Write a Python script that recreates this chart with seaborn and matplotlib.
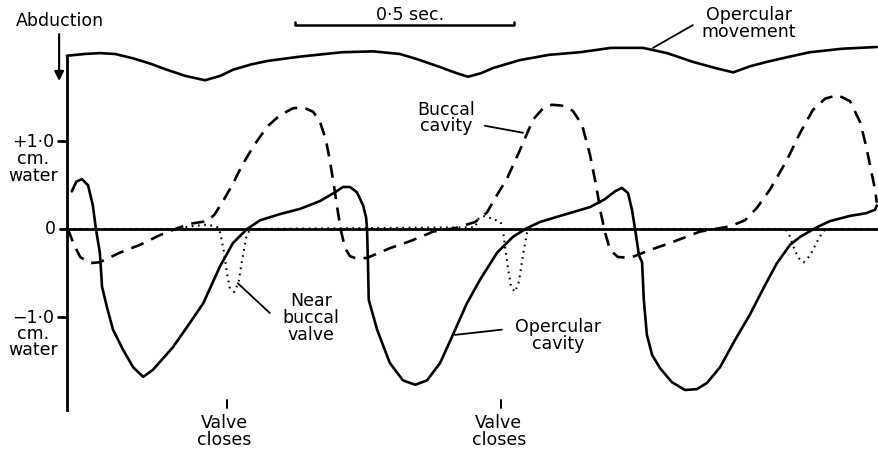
import numpy as np
import matplotlib
matplotlib.use("Agg")
import matplotlib.pyplot as plt
import seaborn as sns

# time in seconds, pressure in cm water
oper_t = [0.011, 0.021, 0.034, 0.048, 0.059, 0.066, 0.075, 0.080, 0.091, 0.105, 0.128, 0.151, 0.174,
          0.196, 0.242, 0.274, 0.311, 0.349, 0.379, 0.411, 0.441, 0.486, 0.532, 0.578, 0.612, 0.630,
          0.646, 0.662, 0.676, 0.683, 0.685, 0.687, 0.689, 0.708, 0.737, 0.767, 0.795, 0.822, 0.852,
          0.881, 0.913, 0.943, 0.982, 1.018, 1.050, 1.080, 1.126, 1.194, 1.228, 1.251, 1.267, 1.281,
          1.290, 1.297, 1.306, 1.313, 1.317, 1.324, 1.336, 1.354, 1.381, 1.411, 1.438, 1.461, 1.491,
          1.525, 1.559, 1.594, 1.621, 1.651, 1.674, 1.712, 1.742, 1.788, 1.824, 1.845, 1.849]
oper_p = [0.43, 0.54, 0.57, 0.50, 0.27, 0.00, -0.27, -0.66, -0.89, -1.15, -1.38, -1.58, -1.69,
          -1.61, -1.35, -1.12, -0.85, -0.43, -0.16, 0.00, 0.10, 0.17, 0.23, 0.32, 0.42, 0.48,
          0.48, 0.42, 0.27, 0.13, 0.00, -0.35, -0.81, -1.15, -1.53, -1.73, -1.78, -1.73, -1.53,
          -1.21, -0.85, -0.58, -0.27, -0.09, 0.01, 0.08, 0.15, 0.25, 0.34, 0.43, 0.47, 0.41,
          0.22, 0.00, -0.30, -0.38, -0.81, -1.21, -1.44, -1.59, -1.75, -1.84, -1.83, -1.76, -1.58,
          -1.27, -0.98, -0.64, -0.39, -0.18, -0.09, 0.02, 0.09, 0.15, 0.18, 0.22, 0.27]

bucc_t = [0.002, 0.016, 0.030, 0.053, 0.075, 0.121, 0.167, 0.212, 0.247, 0.281, 0.320, 0.336, 0.354,
          0.377, 0.400, 0.425, 0.457, 0.486, 0.516, 0.539, 0.562, 0.578, 0.591, 0.600, 0.610, 0.619,
          0.626, 0.635, 0.646, 0.662, 0.685, 0.737, 0.783, 0.836, 0.886, 0.932, 0.959, 0.982, 1.005,
          1.034, 1.064, 1.087, 1.107, 1.130, 1.155, 1.176, 1.194, 1.208, 1.219, 1.228, 1.240, 1.258,
          1.286, 1.331, 1.377, 1.445, 1.514, 1.548, 1.575, 1.605, 1.644, 1.674, 1.703, 1.731, 1.760,
          1.788, 1.811, 1.824, 1.836, 1.845, 1.849]
bucc_p = [0.00, -0.18, -0.32, -0.39, -0.38, -0.27, -0.18, -0.07, 0.00, 0.06, 0.09, 0.16, 0.30,
          0.50, 0.73, 0.94, 1.17, 1.30, 1.38, 1.39, 1.34, 1.22, 1.02, 0.79, 0.48, 0.18,
          -0.03, -0.22, -0.31, -0.34, -0.33, -0.22, -0.14, -0.03, 0.01, 0.08, 0.19, 0.39, 0.58,
          0.90, 1.25, 1.38, 1.42, 1.41, 1.35, 1.19, 0.85, 0.50, 0.18, -0.03, -0.24, -0.32,
          -0.33, -0.24, -0.16, -0.03, 0.03, 0.10, 0.24, 0.45, 0.79, 1.10, 1.36, 1.49, 1.53,
          1.46, 1.22, 0.96, 0.67, 0.45, 0.30]

valve_t = [0.000, 0.250, 0.280, 0.320, 0.345, 0.350, 0.358, 0.365, 0.372, 0.382, 0.392, 0.400, 0.409,
           0.418, 0.932, 0.940, 0.950, 0.970, 0.990, 0.995, 1.000, 1.007, 1.014, 1.023, 1.032, 1.041,
           1.050, 1.056, 1.640, 1.650, 1.660, 1.670, 1.682, 1.697, 1.712, 1.727, 1.740, 1.850]
valve_p = [0.00, 0.00, 0.03, 0.05, 0.02, -0.05, -0.25, -0.50, -0.68, -0.72, -0.60, -0.35, -0.10,
           0.00, 0.02, 0.12, 0.15, 0.12, 0.08, 0.00, -0.20, -0.45, -0.66, -0.72, -0.60, -0.30,
           -0.05, 0.00, 0.00, -0.08, -0.22, -0.33, -0.38, -0.30, -0.15, -0.02, 0.00, 0.00]

# opercular movement, arbitrary units drawn above the pressure traces
move_t = [0.000, 0.040, 0.075, 0.110, 0.151, 0.190, 0.228, 0.270, 0.315, 0.350, 0.379, 0.420,
          0.457, 0.532, 0.628, 0.699, 0.760, 0.800, 0.852, 0.890, 0.916, 0.945, 0.973, 1.034,
          1.100, 1.171, 1.242, 1.315, 1.370, 1.429, 1.480, 1.521, 1.560, 1.598, 1.650, 1.696,
          1.770, 1.849]
move_p = [1.98, 2.00, 2.01, 2.00, 1.95, 1.89, 1.82, 1.75, 1.70, 1.75, 1.82, 1.88,
          1.92, 1.97, 2.02, 2.03, 2.00, 1.94, 1.85, 1.78, 1.74, 1.78, 1.84, 1.93,
          1.99, 2.02, 2.07, 2.07, 2.01, 1.91, 1.84, 1.79, 1.86, 1.91, 1.97, 2.02,
          2.06, 2.08]

valve_close = [0.365, 0.991]

sns.set_style("white")
plt.rcParams["font.family"] = ["DejaVu Sans"]
plt.rcParams["text.color"] = "black"

fig = plt.figure(figsize=(8.79, 4.51), dpi=100)
ax = fig.add_axes([0, 0, 1, 1])

lw = 1.9
sns.lineplot(x=oper_t, y=oper_p, sort=False, estimator=None, color="black", linewidth=lw, ax=ax)
sns.lineplot(x=bucc_t, y=bucc_p, sort=False, estimator=None, color="black", linewidth=lw,
             linestyle=(0, (5.0, 3.2)), ax=ax)
sns.lineplot(x=valve_t, y=valve_p, sort=False, estimator=None, color="black", linewidth=1.5,
             linestyle=(0, (0.8, 2.2)), ax=ax)
sns.lineplot(x=move_t, y=move_p, sort=False, estimator=None, color="black", linewidth=lw, ax=ax)

ax.set_xlim(-0.153, 1.854)
ax.set_ylim(-2.537, 2.617)

# axes: vertical line at t=0 and the zero baseline
for s in ["top", "right", "bottom"]:
    ax.spines[s].set_visible(False)
ax.spines["left"].set_position(("data", 0))
ax.spines["left"].set_bounds(-2.07, 1.98)
ax.spines["left"].set_linewidth(2.0)
ax.spines["left"].set_color("black")
ax.set_xticks([])
ax.set_yticks([-1, 1])
ax.set_yticklabels([])
ax.tick_params(axis="y", direction="out", length=7, width=2.0, color="black", left=True)
ax.axhline(0, xmin=60 / 879, xmax=877 / 879, color="black", linewidth=2.0)

fs = 12.5
ax.text(0.783, 2.45, "0·5 sec.", ha="center", va="center", fontsize=fs)
ax.plot([0.521, 0.521, 1.021, 1.021], [2.37, 2.33, 2.33, 2.37], color="black", linewidth=1.8)

ax.text(-0.016, 2.38, "Abduction", ha="center", va="center", fontsize=fs)
ax.annotate("", xy=(-0.018, 1.66), xytext=(-0.018, 2.26),
            arrowprops=dict(arrowstyle="-|>", color="black", lw=1.5, mutation_scale=14))

ax.text(1.557, 2.35, "Opercular\nmovement", ha="center", va="center", fontsize=fs, linespacing=0.95)
ax.plot([1.429, 1.338], [2.33, 2.07], color="black", linewidth=1.3)

ax.text(0.865, 1.27, "Buccal\ncavity", ha="center", va="center", fontsize=fs, linespacing=0.9)
ax.plot([0.954, 1.041], [1.18, 1.10], color="black", linewidth=1.3)

ax.text(-0.078, 0.80, "+1·0\ncm.\nwater", ha="center", va="center", fontsize=fs, linespacing=0.9)
ax.text(-0.039, 0.0, "0", ha="center", va="center", fontsize=fs)
ax.text(-0.078, -1.20, "−1·0\ncm.\nwater", ha="center", va="center", fontsize=fs, linespacing=0.86)

ax.text(0.557, -1.02, "Near\nbuccal\nvalve", ha="center", va="center", fontsize=fs, linespacing=0.93)
ax.plot([0.390, 0.463], [-0.62, -0.96], color="black", linewidth=1.3)

ax.text(1.121, -1.22, "Opercular\ncavity", ha="center", va="center", fontsize=fs, linespacing=0.93)
ax.plot([0.886, 0.993], [-1.21, -1.15], color="black", linewidth=1.3)

for vt in valve_close:
    ax.plot([vt, vt], [-1.95, -2.04], color="black", linewidth=1.4)
    ax.text(vt - 0.005, -2.31, "Valve\ncloses", ha="center", va="center", fontsize=fs, linespacing=0.93)

fig.savefig("out.png", dpi=100, facecolor="white")
